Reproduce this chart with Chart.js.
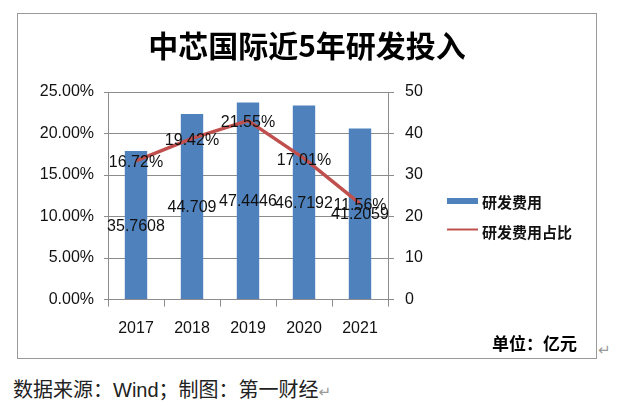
<!DOCTYPE html>
<html>
<head>
<meta charset="utf-8">
<script src="https://cdn.jsdelivr.net/npm/chart.js@4.4.1/dist/chart.umd.min.js"></script>
<style>
  body { margin: 0; background: #fff; width: 618px; height: 406px; overflow: hidden; position: relative; }
  #box { position: absolute; left: 17px; top: 13px; width: 578px; height: 344px; border: 1px solid #9a9a9a; }
  #box canvas { display: block; }
  #ret1 { position: absolute; left: 598px; top: 341px; font: 15px "DejaVu Sans"; color: #999; }
  #source { position: absolute; left: 13px; top: 378px; font: 20px/24px "Liberation Sans", "Noto Sans CJK SC"; color: #222; white-space: nowrap; }
  #source span { font: 15px "DejaVu Sans"; color: #999; }
</style>
</head>
<body>
<div id="box"><canvas id="rdChart" width="578" height="344"></canvas></div>
<div id="ret1">↵</div>
<div id="source">数据来源：Wind；制图：第一财经<span>↵</span></div>

<script>
const years = ['2017', '2018', '2019', '2020', '2021'];
const rdCost = [35.7608, 44.709, 47.4446, 46.7192, 41.2059];   // 研发费用, 亿元
const rdRatio = [16.72, 19.42, 21.55, 17.01, 11.56];          // 研发费用占比, %
const ratioTicks = [0, 5, 25];   // min, step, max
const costTicks = [0, 10, 50];

const numFont = '"Liberation Sans", Arial, sans-serif';
const cjkFont = '"Noto Sans CJK SC", sans-serif';
const gridGrey = '#8c8c8c';

// value labels drawn on bars and line points
const valueLabels = {
    id: 'valueLabels',
    afterDatasetsDraw(chart) {
        const ctx = chart.ctx;
        ctx.save();
        ctx.font = '16px ' + numFont;
        ctx.fillStyle = '#111';
        ctx.textAlign = 'center';
        ctx.textBaseline = 'middle';
        chart.getDatasetMeta(1).data.forEach((bar, i) => {
            ctx.fillText(String(rdCost[i]), bar.x, (bar.y + bar.base) / 2 + 1);
        });
        chart.getDatasetMeta(0).data.forEach((pt, i) => {
            ctx.fillText(rdRatio[i].toFixed(2) + '%', pt.x, pt.y + 2);
        });
        ctx.restore();
    }
};

// legend on the right, drawn by hand so it can sit where excel put it
const sideLegend = {
    id: 'sideLegend',
    afterDraw(chart) {
        const ctx = chart.ctx;
        const ds = chart.data.datasets;
        ctx.save();
        ctx.font = 'bold 15px ' + cjkFont;
        ctx.textBaseline = 'middle';
        // bar item
        ctx.fillStyle = ds[1].backgroundColor;
        ctx.fillRect(429, 184, 31, 6);
        ctx.fillStyle = '#111';
        ctx.fillText(ds[1].label, 464, 188.5);
        // line item
        ctx.strokeStyle = ds[0].borderColor;
        ctx.lineWidth = 2;
        ctx.beginPath();
        ctx.moveTo(429, 215.5);
        ctx.lineTo(460, 215.5);
        ctx.stroke();
        ctx.fillText(ds[0].label, 464, 218);
        ctx.restore();
    }
};

new Chart(document.getElementById('rdChart'), {
    data: {
        labels: years,
        datasets: [{
            type: 'line',
            label: '研发费用占比',
            data: rdRatio,
            yAxisID: 'y',
            borderColor: '#C0504D',
            borderWidth: 3.5,
            pointRadius: 0,
            tension: 0,
            order: 1
        }, {
            type: 'bar',
            label: '研发费用',
            data: rdCost,
            yAxisID: 'y1',
            backgroundColor: '#4F81BD',
            categoryPercentage: 1,
            barPercentage: 0.4,
            order: 2
        }]
    },
    options: {
        responsive: false,
        animation: false,
        layout: { padding: { left: 19, right: 19, top: 0, bottom: 0 } },
        plugins: {
            legend: { display: false },
            tooltip: { enabled: false },
            title: {
                display: true,
                text: '中芯国际近5年研发投入',
                color: '#000',
                font: { family: cjkFont, size: 30, weight: 'bold', lineHeight: 1.2 },
                padding: { top: 14, bottom: 28 }
            },
            subtitle: {
                display: true,
                position: 'bottom',
                align: 'end',
                text: '单位：亿元',
                color: '#000',
                font: { family: cjkFont, size: 17, weight: 'bold', lineHeight: 1.2 },
                padding: { top: 0, bottom: 4 }
            }
        },
        scales: {
            x: {
                grid: { display: true, drawOnChartArea: false, drawTicks: true, tickLength: 7, color: gridGrey, offset: true },
                border: { display: true, color: gridGrey },
                ticks: { color: '#111', font: { family: numFont, size: 16 }, padding: 12 },
                afterFit(scale) { scale.height = 34; }
            },
            y: {
                position: 'left',
                min: ratioTicks[0],
                max: ratioTicks[2],
                ticks: {
                    stepSize: ratioTicks[1],
                    color: '#111',
                    font: { family: numFont, size: 16 },
                    padding: 10,
                    callback: v => v.toFixed(2) + '%'
                },
                grid: { color: gridGrey, tickLength: 4 },
                border: { display: true, color: gridGrey },
                afterFit(scale) { scale.width = 71; }
            },
            y1: {
                position: 'right',
                min: costTicks[0],
                max: costTicks[2],
                ticks: { stepSize: costTicks[1], color: '#111', font: { family: numFont, size: 16 }, padding: 11 },
                grid: { drawOnChartArea: false, color: gridGrey, tickLength: 6 },
                border: { display: true, color: gridGrey },
                afterFit(scale) { scale.width = 189; }
            }
        }
    },
    plugins: [valueLabels, sideLegend]
});
</script>
</body>
</html>
